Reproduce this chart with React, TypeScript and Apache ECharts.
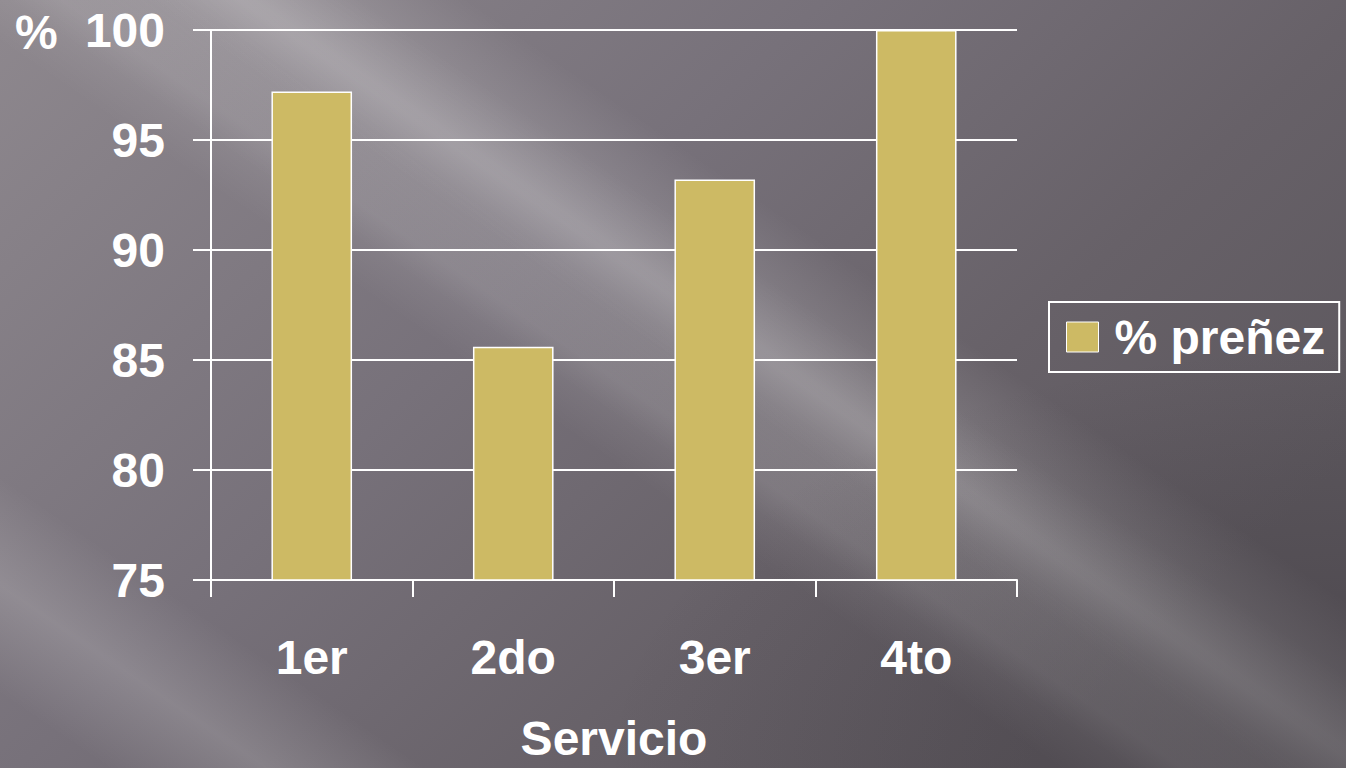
import React, { useEffect, useRef } from "react";
import * as echarts from "echarts";

const categories = ["1er", "2do", "3er", "4to"];
const pregnancyRate = [97.2, 85.6, 93.2, 100];
const seriesName = "% preñez";
const yMin = 75;
const yMax = 100;
const yInterval = 5;

const FONT = "'Liberation Sans', Arial, sans-serif";

function band(cx: number, cy: number, h: number, alpha: number, color = "255,255,255") {
  return {
    type: "rect",
    x: cx,
    y: cy,
    rotation: -0.6,
    silent: true,
    shape: { x: -1400, y: -h / 2, width: 2800, height: h },
    style: {
      fill: {
        type: "linear",
        x: 0,
        y: 0,
        x2: 0,
        y2: 1,
        colorStops: [
          { offset: 0, color: `rgba(${color},0)` },
          { offset: 0.5, color: `rgba(${color},${alpha})` },
          { offset: 1, color: `rgba(${color},0)` },
        ],
      },
    },
    z: -10,
  };
}

export default function App() {
  const ref = useRef<HTMLDivElement>(null);
  useEffect(() => {
    if (!ref.current) return;
    const chart = echarts.init(ref.current, undefined, { renderer: "svg" });
    chart.setOption({
      animation: false,
      backgroundColor: {
        type: "linear",
        x: 0,
        y: 0,
        x2: 1,
        y2: 0.6,
        colorStops: [
          { offset: 0, color: "#8e888e" },
          { offset: 0.45, color: "#77717a" },
          { offset: 0.75, color: "#676168" },
          { offset: 1, color: "#5d585e" },
        ],
      },
      graphic: [
        band(560, 220, 260, 0.22),
        band(430, 120, 120, 0.1),
        band(80, 640, 180, 0.16),
        band(120, 40, 140, 0.1),
        {
          type: "rect",
          silent: true,
          shape: { x: 0, y: 0, width: 1346, height: 768 },
          style: {
            fill: {
              type: "radial",
              x: 1,
              y: 1,
              r: 0.55,
              colorStops: [
                { offset: 0, color: "rgba(40,35,42,0.35)" },
                { offset: 1, color: "rgba(40,35,42,0)" },
              ],
            },
          },
          z: -9,
        },
        {
          type: "text",
          left: 15,
          top: 8,
          style: {
            text: "%",
            fill: "#ffffff",
            font: `bold 48px ${FONT}`,
          },
          z: 10,
        },
      ],
      grid: { left: 211, right: 329, top: 30, bottom: 188, outerBoundsMode: "none" },
      legend: {
        data: [seriesName],
        left: 1049,
        top: 302,
        orient: "vertical",
        icon: "rect",
        itemWidth: 32,
        itemHeight: 30,
        padding: [11, 14, 11, 17],
        borderColor: "#ffffff",
        borderWidth: 2,
        borderRadius: 0,
        itemStyle: { borderColor: "#ffffff", borderWidth: 1 },
        textStyle: {
          color: "#ffffff",
          fontFamily: FONT,
          fontWeight: "bold",
          fontSize: 48,
          lineHeight: 48,
          padding: [0, 0, 0, 11],
        },
      },
      xAxis: {
        type: "category",
        data: categories,
        name: "Servicio",
        nameLocation: "middle",
        nameGap: 138,
        nameTextStyle: {
          color: "#ffffff",
          fontFamily: FONT,
          fontWeight: "bold",
          fontSize: 48,
          lineHeight: 40,
        },
        axisLine: { lineStyle: { color: "#ffffff", width: 2 } },
        axisTick: { show: true, length: 17, lineStyle: { color: "#ffffff", width: 2 } },
        axisLabel: {
          color: "#ffffff",
          fontFamily: FONT,
          fontWeight: "bold",
          fontSize: 48,
          margin: 53,
        },
      },
      yAxis: {
        type: "value",
        min: yMin,
        max: yMax,
        interval: yInterval,
        axisLine: { show: true, lineStyle: { color: "#ffffff", width: 2 } },
        axisTick: { show: true, length: 18, lineStyle: { color: "#ffffff", width: 2 } },
        splitLine: { show: true, lineStyle: { color: "#ffffff", width: 2 } },
        axisLabel: {
          color: "#ffffff",
          fontFamily: FONT,
          fontWeight: "bold",
          fontSize: 48,
          margin: 46,
        },
      },
      series: [
        {
          name: seriesName,
          type: "bar",
          data: pregnancyRate,
          barWidth: "40%",
          itemStyle: { color: "#cdba64", borderColor: "#ffffff", borderWidth: 1.5 },
        },
      ],
    });
    return () => chart.dispose();
  }, []);
  return <div ref={ref} style={{ width: 1346, height: 768, position: "absolute", left: 0, top: 0 }} />;
}
